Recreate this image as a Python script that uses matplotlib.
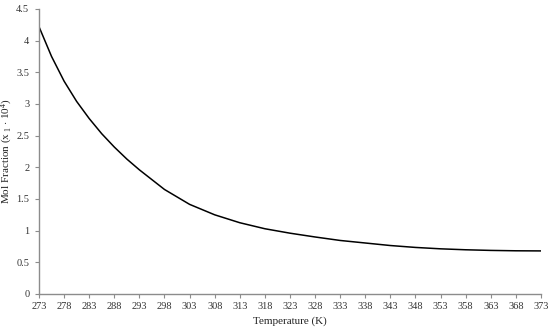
import matplotlib
matplotlib.use('Agg')
import matplotlib.pyplot as plt

# temperature (K) and mol fraction x1 * 10^4
temperature = [273, 275.5, 278, 280.5, 283, 285.5, 288, 290.5, 293, 298, 303, 308,
               313, 318, 323, 328, 333, 338, 343, 348, 353, 358, 363, 368, 373]
mol_fraction = [4.22, 3.75, 3.36, 3.04, 2.77, 2.53, 2.32, 2.13, 1.96, 1.65, 1.415, 1.25,
                1.125, 1.03, 0.96, 0.90, 0.845, 0.805, 0.765, 0.735, 0.713, 0.698,
                0.688, 0.682, 0.68]

x_ticks = list(range(273, 374, 5))
y_ticks = [0, 0.5, 1, 1.5, 2, 2.5, 3, 3.5, 4, 4.5]
y_tick_labels = ['0', '0.5', '1', '1.5', '2', '2.5', '3', '3.5', '4', '4.5']

plt.rcParams['font.family'] = ['Liberation Serif', 'DejaVu Serif']
plt.rcParams['mathtext.fontset'] = 'custom'
plt.rcParams['mathtext.rm'] = 'Liberation Serif'
plt.rcParams['mathtext.it'] = 'Liberation Serif:italic'

fig = plt.figure(figsize=(5.5, 3.28), dpi=100)
ax = fig.add_axes([0.0709, 0.1037, 0.9127, 0.869])

ax.plot(temperature, mol_fraction, color='black', linewidth=1.1)

ax.set_xlim(273, 373)
ax.set_ylim(0, 4.5)
ax.set_xticks(x_ticks)
ax.set_yticks(y_ticks)
ax.set_yticklabels(y_tick_labels)

for side in ['top', 'right']:
    ax.spines[side].set_visible(False)
for side in ['left', 'bottom']:
    ax.spines[side].set_color('#8c8c8c')
    ax.spines[side].set_linewidth(1.0)

ax.tick_params(axis='both', colors='#8c8c8c', labelcolor='#333333',
               labelsize=7.5, length=3, width=0.8, direction='out')
ax.tick_params(axis='x', pad=3)
ax.tick_params(axis='y', pad=4)

ax.set_xlabel('Temperature (K)', fontsize=8, color='#222222', labelpad=4)
ax.set_ylabel(r'Mol Fraction (x$_{\mathregular{\ 1}}$ $\mathregular{\cdot}$ 10$^{\mathregular{4}}$)',
              fontsize=8, color='#222222')
ax.yaxis.set_label_coords(-0.048, 0.5)

plt.savefig('out.png', dpi=100)
